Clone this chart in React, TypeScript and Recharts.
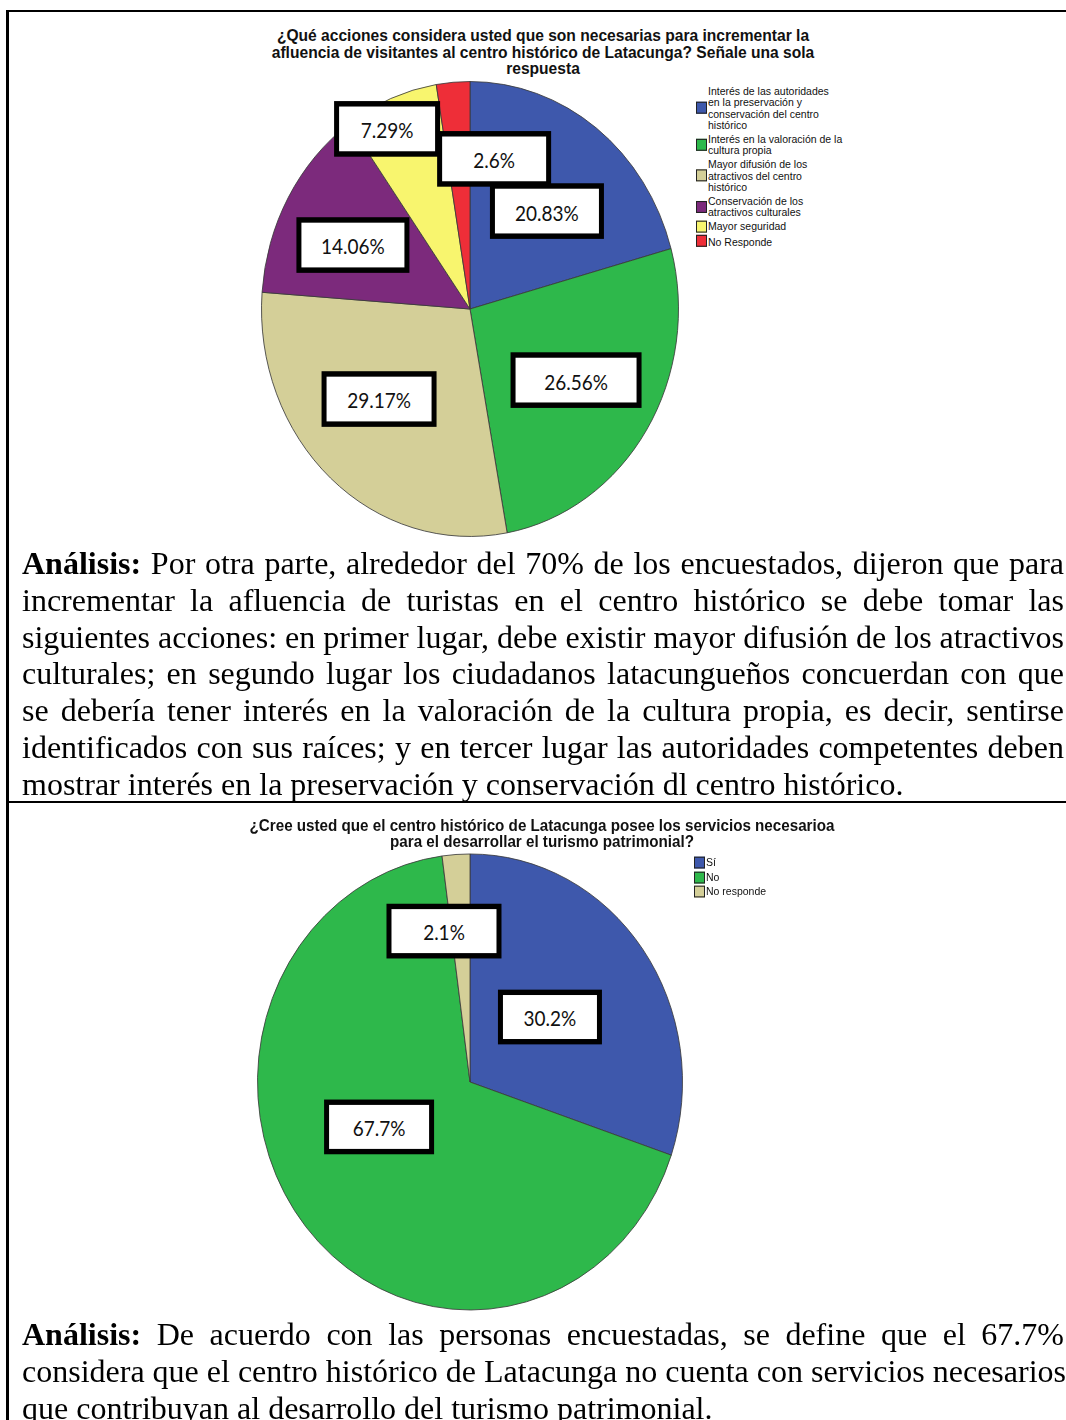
import React from "react"
import { PieChart, Pie, Cell, Legend } from "recharts"

// chart 1
const accionesCategorias = [
  "Interés de las autoridades\nen la preservación y\nconservación del centro\nhistórico",
  "Interés en la valoración de la\ncultura propia",
  "Mayor difusión de los\natractivos del centro\nhistórico",
  "Conservación de los\natractivos culturales",
  "Mayor seguridad",
  "No Responde",
]
const accionesPorcentajes = [20.83, 26.56, 29.17, 14.06, 7.29, 2.6]
const accionesColores = ["#3E58AC", "#2EB84B", "#D4CF98", "#7C2A7C", "#F8F56E", "#EE2E38"]
const accionesTitulo =
  "¿Qué acciones considera usted que son necesarias para incrementar la\nafluencia de visitantes al centro histórico de Latacunga? Señale una sola\nrespuesta"

// chart 2
const serviciosCategorias = ["Sí", "No", "No responde"]
const serviciosPorcentajes = [30.2, 67.7, 2.1]
const serviciosColores = ["#3E58AC", "#2EB84B", "#D4CF98"]
const serviciosTitulo =
  "¿Cree usted que el centro histórico de Latacunga posee los servicios necesarioa\npara el desarrollar el turismo patrimonial?"

// label box placement: [angle shift (deg, clockwise), radius factor, box width]
const accionesLabelPos = [
  [3.3, 0.567, 109],
  [-0.6, 0.597, 126],
  [5.8, 0.589, 110],
  [-2.8, 0.628, 108],
  [-4.3, 0.886, 101],
  [14.6, 0.67, 109],
]
const serviciosLabelPos = [
  [-1.5, 0.472, 99],
  [14.7, 0.471, 105],
  [-6.7, 0.673, 110],
]

const parrafo1 = [
  "Por otra parte, alrededor del 70% de los encuestados, dijeron que para",
  "incrementar la afluencia de turistas en el centro histórico se debe tomar las",
  "siguientes acciones: en primer lugar, debe existir mayor difusión de los atractivos",
  "culturales; en segundo lugar los ciudadanos latacungueños concuerdan con que",
  "se debería tener interés en la valoración de la cultura propia, es decir, sentirse",
  "identificados con sus raíces; y en tercer lugar las autoridades competentes deben",
  "mostrar interés en la preservación y conservación dl centro histórico.",
]
const parrafo2 = [
  "De acuerdo con las personas encuestadas, se define que el 67.7%",
  "considera que el centro histórico de Latacunga no cuenta con servicios necesarios",
  "que contribuyan al desarrollo del turismo patrimonial.",
]

const boxLabel = (pos: number[][]) => (props: any) => {
  const { cx, cy, midAngle, outerRadius, index, value } = props
  const [shift, k, w] = pos[index]
  const cw = 90 - midAngle + shift
  const th = ((90 - cw) * Math.PI) / 180
  const x = cx + outerRadius * k * Math.cos(th)
  const y = cy - outerRadius * k * Math.sin(th)
  return (
    <g>
      <rect x={x - w / 2} y={y - 23} width={w} height={46} fill="#fff" stroke="#000" strokeWidth={5} />
      <text x={x} y={y + 1} textAnchor="middle" dominantBaseline="central" fontFamily="Lato" fontSize={19} fill="#111">
        {value}%
      </text>
    </g>
  )
}

const legendBox = (orden: string[], lineH: number, gap: number) => (props: any) => {
  const items = [...props.payload].sort((a: any, b: any) => orden.indexOf(a.value) - orden.indexOf(b.value))
  return (
    <div style={{ fontFamily: "'Liberation Sans', Arial", fontSize: 10.5, color: "#111" }}>
      {items.map((p: any) => (
        <div key={p.value} style={{ display: "flex", alignItems: "center", marginBottom: gap }}>
          <span
            style={{
              width: 9,
              height: 9,
              background: p.color,
              border: "1px solid #222",
              marginRight: 1,
              flex: "none",
            }}
          />
          <span style={{ whiteSpace: "pre-line", lineHeight: lineH + "px" }}>{p.value}</span>
        </div>
      ))}
    </div>
  )
}

function Grafico({
  top,
  sy,
  radius,
  titulo,
  tituloTop,
  tituloX,
  tituloSize,
  categorias,
  valores,
  colores,
  labelPos,
  legendLeft,
  legendTop,
  legendGap,
}: any) {
  const data = categorias.map((c: string, i: number) => ({ name: c, value: valores[i] }))
  const cy = 290
  return (
    <div
      style={{
        position: "absolute",
        left: 0,
        top,
        width: 1066,
        height: 540,
        transform: `scaleY(${sy})`,
        transformOrigin: `470px ${cy}px`,
      }}
    >
      <PieChart width={1066} height={540} margin={{ top: 0, right: 0, bottom: 0, left: 0 }}>
        <Pie
          data={data}
          dataKey="value"
          nameKey="name"
          cx={470}
          cy={cy}
          outerRadius={radius}
          startAngle={90}
          endAngle={-270}
          stroke="#3a3a3a"
          strokeWidth={0.8}
          labelLine={false}
          label={boxLabel(labelPos)}
          isAnimationActive={false}
        >
          {data.map((d: any, i: number) => (
            <Cell key={d.name} fill={colores[i]} />
          ))}
        </Pie>
        <Legend
          layout="vertical"
          align="right"
          verticalAlign="top"
          content={legendBox(categorias, 10.4, legendGap)}
          wrapperStyle={{ position: "absolute", left: legendLeft, top: legendTop, width: 170 }}
        />
      </PieChart>
      <div
        style={{
          position: "absolute",
          left: tituloX - 320,
          top: tituloTop,
          width: 640,
          textAlign: "center",
          whiteSpace: "pre-line",
          fontFamily: "'Liberation Sans', Arial",
          fontWeight: "bold",
          fontSize: tituloSize,
          lineHeight: "15.6px",
          color: "#111",
        }}
      >
        {titulo}
      </div>
    </div>
  )
}

function Parrafo({ top, lines }: { top: number; lines: string[] }) {
  return (
    <div
      style={{
        position: "absolute",
        left: 22,
        top,
        width: 1042,
        fontFamily: "'Liberation Serif', 'Times New Roman', serif",
        fontSize: 32,
        lineHeight: "36.8px",
        color: "#000",
      }}
    >
      {lines.map((l, i) => {
        const last = i === lines.length - 1
        return (
          <div key={i} style={{ textAlign: last ? "left" : "justify", textAlignLast: last ? "left" : "justify", whiteSpace: "nowrap" as any }}>
            {i === 0 && <b>Análisis: </b>}
            {l}
          </div>
        )
      })}
    </div>
  )
}

export default function App() {
  const line = "#000"
  return (
    <div style={{ position: "absolute", left: 0, top: 0, width: 1066, height: 1420, overflow: "hidden", background: "#fff" }}>
      <Grafico
        top={19}
        sy={1.091}
        radius={208.5}
        titulo={accionesTitulo}
        tituloTop={31}
        tituloX={543}
        tituloSize={15.6}
        categorias={accionesCategorias}
        valores={accionesPorcentajes}
        colores={accionesColores}
        labelPos={accionesLabelPos}
        legendLeft={696}
        legendTop={85}
        legendGap={2.4}
      />
      <Grafico
        top={792}
        sy={1.073}
        radius={212.5}
        titulo={serviciosTitulo}
        tituloTop={42.7}
        tituloX={542}
        tituloSize={15.2}
        categorias={serviciosCategorias}
        valores={serviciosPorcentajes}
        colores={serviciosColores}
        labelPos={serviciosLabelPos}
        legendLeft={694}
        legendTop={80}
        legendGap={2.6}
      />
      <Parrafo top={545} lines={parrafo1} />
      <Parrafo top={1316} lines={parrafo2} />
      <div style={{ position: "absolute", left: 6, top: 9.5, width: 1060, height: 2, background: line }} />
      <div style={{ position: "absolute", left: 6, top: 801, width: 1060, height: 2, background: line }} />
      <div style={{ position: "absolute", left: 6, top: 9.5, width: 2.5, height: 1411, background: line }} />
    </div>
  )
}
